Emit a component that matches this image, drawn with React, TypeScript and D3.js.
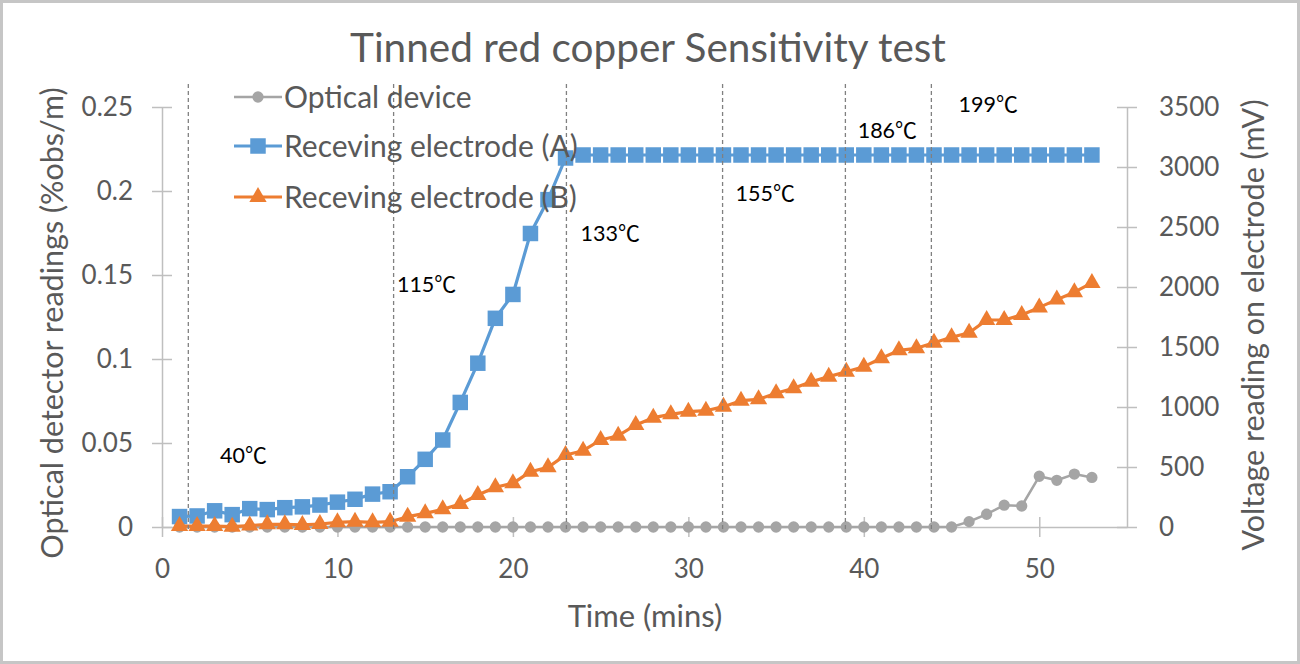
import React, { useEffect, useRef } from "react";
import * as d3 from "d3";

// minutes 1..53
const minutes = [
  1, 2, 3, 4, 5, 6, 7, 8, 9, 10, 11, 12, 13, 14, 15, 16, 17, 18, 19, 20,
  21, 22, 23, 24, 25, 26, 27, 28, 29, 30, 31, 32, 33, 34, 35, 36, 37, 38, 39, 40,
  41, 42, 43, 44, 45, 46, 47, 48, 49, 50, 51, 52, 53,
];

// optical detector (%obs/m), left axis
const optical = [
  0, 0, 0, 0, 0, 0, 0, 0, 0, 0, 0, 0, 0, 0, 0, 0, 0, 0, 0, 0,
  0, 0, 0, 0, 0, 0, 0, 0, 0, 0, 0, 0, 0, 0, 0, 0, 0, 0, 0, 0,
  0, 0, 0, 0, 0, 0.0032, 0.0076, 0.013, 0.0125, 0.0302, 0.0278, 0.0315, 0.0295,
];

// receiving electrode A (mV), right axis
const electrodeA = [
  87, 92, 135, 103, 153, 145, 161, 168, 183, 207, 231, 274, 294, 419, 564, 725, 1038, 1365, 1739, 1938,
  2446, 2728, 3075, 3100, 3100, 3100, 3100, 3100, 3100, 3100, 3100, 3100, 3100, 3100, 3100, 3100, 3100, 3100, 3100, 3100,
  3100, 3100, 3100, 3100, 3100, 3100, 3100, 3100, 3100, 3100, 3100, 3100, 3100,
];

// receiving electrode B (mV), right axis
const electrodeB = [
  8, 8, 8, 3, 12, 22, 22, 17, 25, 39, 44, 39, 44, 86, 114, 147, 192, 267, 331, 364,
  461, 497, 600, 636, 725, 761, 850, 911, 939, 961, 969, 1003, 1053, 1064, 1114, 1156, 1211, 1253, 1294, 1336,
  1406, 1472, 1489, 1536, 1581, 1619, 1725, 1725, 1767, 1830, 1895, 1957, 2034,
];

const xTicks = [0, 10, 20, 30, 40, 50];
const leftTicks = [0, 0.05, 0.1, 0.15, 0.2, 0.25];
const rightTicks = [0, 500, 1000, 1500, 2000, 2500, 3000, 3500];

// temperature markers: dashed line time, label anchor (time, mV)
const markerTimes = [1.5, 13.2, 23.05, 31.95, 38.95, 43.85];
const tempLabels = ["40", "115", "133", "155", "186", "199"];
const labelTimes = [3.31, 13.39, 23.85, 32.69, 39.65, 45.4];
const labelVolts = [596, 2017, 2450, 2783, 3308, 3525];

const seriesNames = ["Optical device", "Receving electrode (A)", "Receving electrode (B)"];

const W = 1300;
const H = 664;
const FONT = "Lato, 'Open Sans', sans-serif";
const CJK = "'Noto Sans CJK JP', 'Noto Sans CJK SC', sans-serif";
const TEXT = "#595959";
const AXIS = "#bfbfbf";
const GRAY = "#a5a5a5";
const BLUE = "#5b9bd5";
const ORANGE = "#ed7d31";

const App: React.FC = () => {
  const svgRef = useRef<SVGSVGElement>(null);

  useEffect(() => {
    if (!svgRef.current) return;
    const svg = d3.select(svgRef.current);
    svg.selectAll("*").remove();

    const plot = { left: 162, right: 1127, top: 107, bottom: 527 };

    const x = d3.scaleLinear().domain([0, 55]).range([plot.left, plot.right]);
    const yL = d3.scaleLinear().domain([0, 0.25]).range([plot.bottom, plot.top]);
    const yR = d3.scaleLinear().domain([0, 3500]).range([plot.bottom, plot.top]);

    svg.append("rect")
      .attr("x", 1.5).attr("y", 1.5)
      .attr("width", W - 3).attr("height", H - 3)
      .attr("fill", "#fff")
      .attr("stroke", "#c6c6c6")
      .attr("stroke-width", 3);

    // title
    svg.append("text")
      .attr("x", 648).attr("y", 62)
      .attr("text-anchor", "middle")
      .attr("font-family", FONT)
      .attr("font-size", 40.5)
      .attr("fill", TEXT)
      .text("Tinned red copper Sensitivity test");

    // axes
    const styleAxis = (g: d3.Selection<SVGGElement, unknown, null, undefined>, horizontal: boolean) => {
      g.select(".domain").attr("stroke", AXIS).attr("stroke-width", 1.5);
      g.selectAll(".tick line")
        .attr("stroke", AXIS).attr("stroke-width", 1.5)
        .attr(horizontal ? "y1" : "x1", -10)
        .attr(horizontal ? "y2" : "x2", 10);
      g.selectAll(".tick text")
        .attr("fill", TEXT)
        .attr("font-family", FONT)
        .attr("font-size", 26);
    };

    const gx = svg.append("g")
      .attr("transform", `translate(0,${plot.bottom})`)
      .call(d3.axisBottom(x).tickValues(xTicks).tickSize(0).tickSizeOuter(0).tickPadding(33).tickFormat(d => String(d)));
    styleAxis(gx, true);

    const gl = svg.append("g")
      .attr("transform", `translate(${plot.left},0)`)
      .call(d3.axisLeft(yL).tickValues(leftTicks).tickSize(0).tickSizeOuter(0).tickPadding(29).tickFormat(d => String(+(+d).toFixed(2))));
    styleAxis(gl, false);

    const gr = svg.append("g")
      .attr("transform", `translate(${plot.right},0)`)
      .call(d3.axisRight(yR).tickValues(rightTicks).tickSize(0).tickSizeOuter(0).tickPadding(32).tickFormat(d => String(d)));
    styleAxis(gr, false);

    // axis titles
    svg.append("text")
      .attr("x", 645).attr("y", 627)
      .attr("text-anchor", "middle")
      .attr("font-family", FONT).attr("font-size", 31).attr("fill", TEXT)
      .text("Time (mins)");

    svg.append("text")
      .attr("transform", `translate(63,323) rotate(-90)`)
      .attr("text-anchor", "middle")
      .attr("font-family", FONT).attr("font-size", 30.5).attr("fill", TEXT)
      .text("Optical detector readings (%obs/m)");

    svg.append("text")
      .attr("transform", `translate(1264,325) rotate(-90)`)
      .attr("text-anchor", "middle")
      .attr("font-family", FONT).attr("font-size", 30.5).attr("fill", TEXT)
      .text("Voltage reading on electrode (mV)");

    // series
    const series = [
      { values: optical, y: yL, color: GRAY, symbol: d3.symbolCircle, size: 100, width: 2.5 },
      { values: electrodeA, y: yR, color: BLUE, symbol: d3.symbolSquare, size: 240, width: 3.2 },
      { values: electrodeB, y: yR, color: ORANGE, symbol: d3.symbolTriangle, size: 130, width: 3.2 },
    ];

    series.forEach(s => {
      const pts = minutes.map((m, i) => [x(m), s.y(s.values[i])] as [number, number]);
      svg.append("path")
        .datum(pts)
        .attr("fill", "none")
        .attr("stroke", s.color)
        .attr("stroke-width", s.width)
        .attr("stroke-linejoin", "round")
        .attr("d", d3.line());
      svg.append("g")
        .selectAll("path")
        .data(pts)
        .join("path")
        .attr("transform", d => `translate(${d[0]},${d[1]})`)
        .attr("d", d3.symbol(s.symbol, s.size)())
        .attr("fill", s.color);
    });

    // temperature markers
    svg.append("g")
      .selectAll("line")
      .data(markerTimes)
      .join("line")
      .attr("x1", d => x(d)).attr("x2", d => x(d))
      .attr("y1", 84).attr("y2", 532)
      .attr("stroke", "#808080")
      .attr("stroke-width", 1.3)
      .attr("stroke-dasharray", "4,3");

    const labels = svg.append("g")
      .selectAll("text")
      .data(tempLabels)
      .join("text")
      .attr("x", (_, i) => x(labelTimes[i]))
      .attr("y", (_, i) => yR(labelVolts[i]))
      .attr("dy", "0.35em")
      .attr("font-family", FONT)
      .attr("font-size", 21.5)
      .attr("fill", "#000");
    labels.append("tspan").text(d => d);
    labels.append("tspan").attr("font-family", CJK).attr("font-size", 22).text("℃");

    // legend
    const legend = svg.append("g");
    const rowY = [97, 146, 197];
    series.forEach((s, i) => {
      legend.append("line")
        .attr("x1", 234).attr("x2", 282)
        .attr("y1", rowY[i]).attr("y2", rowY[i])
        .attr("stroke", s.color).attr("stroke-width", s.width);
      legend.append("path")
        .attr("transform", `translate(258,${rowY[i]})`)
        .attr("d", d3.symbol(s.symbol, s.size)())
        .attr("fill", s.color);
      legend.append("text")
        .attr("x", 284).attr("y", rowY[i])
        .attr("dy", "0.35em")
        .attr("font-family", FONT).attr("font-size", 30).attr("fill", TEXT)
        .text(seriesNames[i]);
    });
  }, []);

  return (
    <div style={{ position: "absolute", left: 0, top: 0 }}>
      <svg ref={svgRef} width={W} height={H} style={{ display: "block" }} />
    </div>
  );
};

export default App;
